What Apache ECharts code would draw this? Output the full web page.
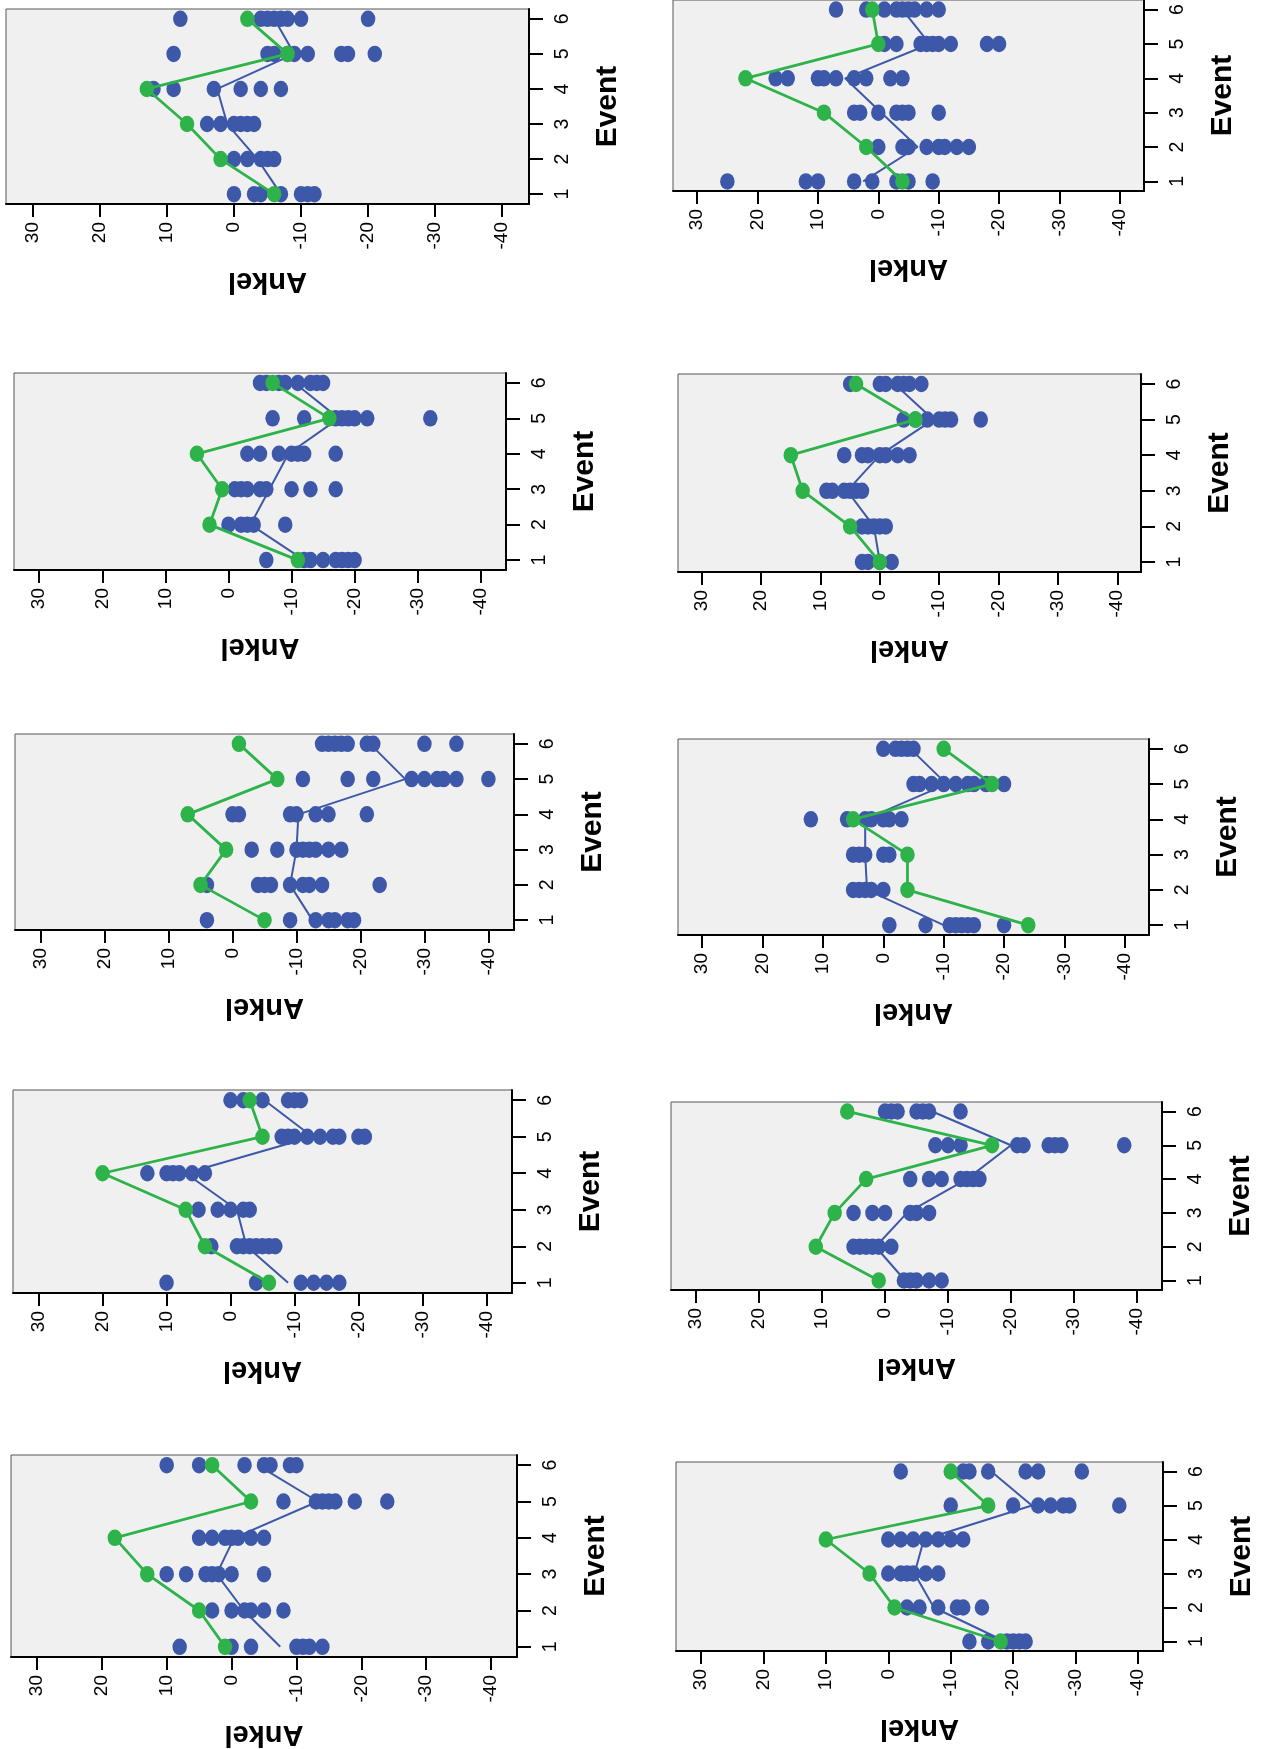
<!DOCTYPE html>
<html><head><meta charset="utf-8">
<script src="https://cdn.jsdelivr.net/npm/echarts@6/dist/echarts.min.js"></script>
<style>html,body{margin:0;padding:0;background:#fff}#c{width:1265px;height:1749px}</style>
</head><body><div id="c"></div>
<script>
// ---- data ----
const eventTicks = [1, 2, 3, 4, 5, 6];
const ankelTicks = [30, 20, 10, 0, -10, -20, -30, -40];
const xName = 'Ankel';
const yName = 'Event';

// each panel: blue individual values per event (1..6), blue mean line, green line
const p1Blue = [[0,-3,-4,-7,-10,-11,-12],[0,-2,-4,-5,-6],[4,2,0,-1,-2,-3],[12,9,3,-1,-4,-7],[9,-5,-6,-8,-9,-11,-16,-17,-21],[8,-4,-5,-6,-7,-8,-10,-20]];
const p1Mean = [-7,-3.5,1,2.5,-9,-6];
const p1Green = [-6,2,7,13,-8,-2];

const p2Blue = [[25,12,10,4,1,-3,-5,-9],[0,-4,-5,-8,-10,-11,-13,-15],[4,3,0,-3,-4,-5,-10],[17,15,10,9,7,4,2,-2,-4],[-1,-3,-7,-8,-9,-10,-12,-18,-20],[7,2,-1,-3,-4,-5,-6,-8,-10]];
const p2Mean = [2.5,-6.5,-0.5,5.5,-8.5,-4];
const p2Green = [-4,2,9,22,0,1];

const p3Blue = [[-6,-12,-13,-15,-17,-18,-19,-20],[0,-2,-3,-4,-9],[-1,-2,-3,-5,-6,-10,-13,-17],[-3,-5,-8,-10,-11,-12,-17],[-7,-12,-17,-18,-19,-20,-22,-32],[-5,-6,-8,-9,-11,-13,-14,-15]];
const p3Mean = [-12,-3.5,-6.5,-9.5,-17.5,-10.5];
const p3Green = [-11,3,1,5,-16,-7];

const p4Blue = [[3,2,0,-2],[3,2,1,0,-1],[9,8,6,5,4,3],[6,3,2,0,-1,-3,-5],[-4,-6,-8,-10,-11,-12,-17],[5,0,-1,-3,-4,-5,-7]];
const p4Mean = [0,1,5.5,0,-9,-2.5];
const p4Green = [0,5,13,15,-6,4];

const p5Blue = [[4,-9,-13,-15,-16,-18,-19],[4,-4,-5,-6,-9,-11,-12,-14,-23],[-3,-7,-10,-11,-12,-13,-15,-17],[0,-1,-9,-10,-13,-15,-21],[-11,-18,-22,-28,-30,-32,-33,-35,-40],[-14,-15,-16,-17,-18,-21,-22,-30,-35]];
const p5Mean = [-12.5,-9,-10,-10.3,-27,-21.5];
const p5Green = [-5,5,1,7,-7,-1];

const p6Blue = [[-1,-7,-11,-12,-13,-14,-15,-20],[5,4,3,2,0],[5,4,3,0,-1],[12,6,3,2,0,-1,-3],[-5,-6,-8,-10,-12,-14,-15,-17,-20],[0,-2,-3,-4,-5]];
const p6Mean = [-10,2.7,3,3,-10.5,-4.5];
const p6Green = [-24,-4,-4,5,-18,-10];

const p7Blue = [[10,-4,-11,-13,-15,-17],[3,-1,-2,-3,-4,-5,-6,-7],[5,2,0,-2,-3],[13,10,9,8,6,4],[-8,-9,-10,-12,-14,-16,-17,-20,-21],[0,-2,-5,-9,-10,-11]];
const p7Mean = [-9,-2.5,-1,7,-12.8,-5.3];
const p7Green = [-6,4,7,20,-5,-3];

const p8Blue = [[-3,-4,-5,-7,-9],[5,4,3,2,1,-1],[5,2,0,-4,-5,-7],[-4,-7,-9,-12,-13,-14,-15],[-8,-10,-12,-21,-22,-26,-27,-28,-38],[0,-1,-2,-5,-6,-7,-12]];
const p8Mean = [-3.2,1.5,-3.5,-13,-20,-7.5];
const p8Green = [1,11,8,3,-17,6];

const p9Blue = [[8,0,-3,-10,-11,-12,-14],[3,0,-2,-3,-5,-8],[10,7,4,3,2,0,-5],[5,3,1,0,-1,-3,-5],[-8,-13,-14,-15,-16,-19,-24],[10,5,-2,-5,-6,-9,-10]];
const p9Mean = [-7.5,-1.9,2.3,-0.4,-13.3,-4];
const p9Green = [1,5,13,18,-3,3];

const p10Blue = [[-13,-16,-19,-20,-21,-22],[-3,-5,-8,-11,-12,-15],[0,-2,-3,-4,-6,-8],[0,-2,-4,-6,-8,-10,-12],[-10,-20,-24,-26,-28,-29,-37],[-2,-12,-13,-16,-22,-24,-31]];
const p10Mean = [-18.7,-7.3,-4.2,-5.7,-23,-16.5];
const p10Green = [-18,-1,3,10,-16,-10];

// ---- layout (separate from data) ----
const panels = [
  {blue:p1Blue, mean:p1Mean, green:p1Green},
  {blue:p2Blue, mean:p2Mean, green:p2Green},
  {blue:p3Blue, mean:p3Mean, green:p3Green},
  {blue:p4Blue, mean:p4Mean, green:p4Green},
  {blue:p5Blue, mean:p5Mean, green:p5Green},
  {blue:p6Blue, mean:p6Mean, green:p6Green},
  {blue:p7Blue, mean:p7Mean, green:p7Green},
  {blue:p8Blue, mean:p8Mean, green:p8Green},
  {blue:p9Blue, mean:p9Mean, green:p9Green},
  {blue:p10Blue, mean:p10Mean, green:p10Green}
];
const boxes = [
  [6, 9, 523, 195],   [673, 0, 471, 191],
  [14, 373, 492, 197], [678, 374, 463, 198],
  [15, 734, 499, 196], [678, 739, 471, 196],
  [13, 1090, 499, 203], [671, 1102, 491, 188],
  [11, 1455, 506, 205], [676, 1462, 487, 189]
];
const BLUE = '#3D58A9';
const GREEN = '#2DB34A';
const tickFont = 'Liberation Sans, Arial, sans-serif';
const nameFont = 'Liberation Sans, Arial, sans-serif';

const grids = [], xAxes = [], yAxes = [], series = [];
panels.forEach((p, i) => {
  const b = boxes[i];
  grids.push({left: b[0], top: b[1], width: b[2], height: b[3], show: true,
    backgroundColor: '#F0F0F0', borderColor: '#555', borderWidth: 1});
  xAxes.push({gridIndex: i, type: 'value', inverse: true, min: -44, max: 34, position: 'bottom',
    axisLine: {show: true, onZero: false, lineStyle: {color: '#000', width: 2}},
    axisTick: {show: true, length: 13, lineStyle: {color: '#000', width: 2}, customValues: ankelTicks},
    axisLabel: {rotate: 90, margin: 18, fontSize: 19, color: '#000', fontFamily: tickFont, customValues: ankelTicks},
    splitLine: {show: false},
    name: xName, nameLocation: 'middle', nameRotate: 180, nameGap: 62,
    nameTextStyle: {fontSize: 29, fontWeight: 'bold', color: '#000', fontFamily: nameFont}});
  yAxes.push({gridIndex: i, type: 'value', min: 0.72, max: 6.28, position: 'right',
    axisLine: {show: true, onZero: false, lineStyle: {color: '#000', width: 2}},
    axisTick: {show: true, length: 14, lineStyle: {color: '#000', width: 2}, customValues: eventTicks},
    axisLabel: {rotate: 90, margin: 24, fontSize: 19.5, color: '#000', fontFamily: tickFont, customValues: eventTicks},
    splitLine: {show: false},
    name: yName, nameLocation: 'middle', nameRotate: 90, nameGap: 64,
    nameTextStyle: {fontSize: 30, fontWeight: 'bold', color: '#000', fontFamily: nameFont}});
  const pts = [];
  p.blue.forEach((vals, k) => vals.forEach(v => pts.push([v, eventTicks[k]])));
  series.push({type: 'line', xAxisIndex: i, yAxisIndex: i, z: 2, symbol: 'none',
    data: p.mean.map((v, k) => [v, eventTicks[k]]),
    lineStyle: {color: BLUE, width: 2}});
  series.push({type: 'scatter', xAxisIndex: i, yAxisIndex: i, z: 3, symbol: 'circle',
    symbolSize: [14.5, 16.5], data: pts, itemStyle: {color: BLUE, opacity: 1}});
  series.push({type: 'line', xAxisIndex: i, yAxisIndex: i, z: 4, symbol: 'circle',
    symbolSize: [14.5, 16.5], showSymbol: true,
    data: p.green.map((v, k) => [v, eventTicks[k]]),
    lineStyle: {color: GREEN, width: 2.8}, itemStyle: {color: GREEN}});
});

const chart = echarts.init(document.getElementById('c'), null, {renderer: 'canvas'});
chart.setOption({
  animation: false,
  backgroundColor: '#fff',
  grid: grids, xAxis: xAxes, yAxis: yAxes, series: series
});
</script></body></html>
